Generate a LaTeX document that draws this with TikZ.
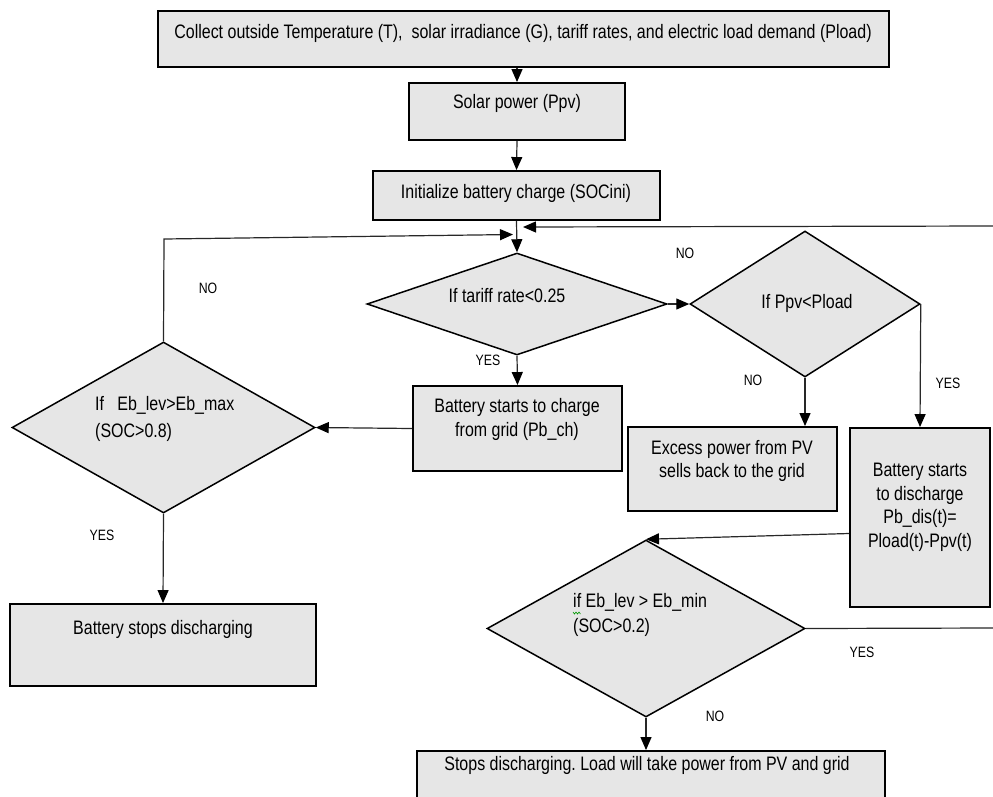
\documentclass[tikz,border=0pt]{standalone}
\usepackage{fontspec}
\setmainfont{Liberation Sans}[FakeStretch=0.82]
\usetikzlibrary{arrows.meta,shapes.geometric,calc}
\definecolor{boxfill}{RGB}{230,230,230}
\definecolor{linegray}{RGB}{40,40,40}
\frenchspacing
\begin{document}
\begin{tikzpicture}[x=1pt,y=-1pt,
  box/.style={draw=black, line width=1.9pt, fill=boxfill, inner sep=0pt},
  dec/.style={diamond, draw=black, line width=1.5pt, fill=boxfill, inner sep=0pt},
  txt/.style={font=\fontsize{19.5}{23.5}\selectfont, align=center, text=black, inner sep=0pt},
  lbl/.style={font=\fontsize{15}{18}\selectfont, text=black, inner sep=0pt},
  flow/.style={draw=linegray, line width=1.2pt},
  arr/.style={flow, -{Triangle[length=13pt,width=11pt,color=black]}}]

\useasboundingbox (0,0) rectangle (993,796);
\fill[white] (0,0) rectangle (993,796);
\clip (0,0) rectangle (993,796);

% process boxes
\node[box, minimum width=731pt, minimum height=56pt] (collect) at (523.5,39) {};
\node[txt] (collect-t) at (523,33) {Collect outside Temperature (T),\ \ solar irradiance (G), tariff rates, and electric load demand (Pload)};

\node[box, minimum width=216pt, minimum height=57pt] (solar) at (517,111.5) {};
\node[txt] (solar-t) at (517,103) {Solar power (Ppv)};

\node[box, minimum width=287pt, minimum height=49pt] (init) at (516.5,195.5) {};
\node[txt] (init-t) at (516,193) {Initialize battery charge (SOCini)};

\node[box, minimum width=209pt, minimum height=85pt] (charge) at (517.5,428.5) {};
\node[txt] (charge-t) at (517,419.5) {Battery starts to charge\\from grid (Pb\_ch)};

\node[box, minimum width=209pt, minimum height=84pt] (excess) at (732.5,469) {};
\node[txt] (excess-t) at (732,461) {Excess power from PV\\sells back to the grid};

\node[box, minimum width=140pt, minimum height=179pt] (discharge) at (920,517.5) {};
\node[txt] (discharge-t) at (920,507.5) {Battery starts\\to discharge\\Pb\_dis(t)=\\Pload(t)-Ppv(t)};

\node[box, minimum width=306pt, minimum height=82pt] (stopbatt) at (163,645) {};
\node[txt] (stopbatt-t) at (163,629) {Battery stops discharging};

\node[box, minimum width=468pt, minimum height=78pt] (stopload) at (651,790) {};
\node[txt] (stopload-t) at (647,765) {Stops discharging. Load will take power from PV and grid};

% decisions
\node[dec, minimum width=300pt, minimum height=102pt] (tariff) at (517,304) {};
\node[txt] (tariff-t) at (507,296) {If tariff rate<0.25};

\node[dec, minimum width=230pt, minimum height=146pt] (ppvq) at (805,304) {};
\node[txt] (ppvq-t) at (807,303) {If Ppv<Pload};

\node[dec, minimum width=303pt, minimum height=171pt] (ebmax) at (163.5,427.5) {};
\node[txt, align=left, anchor=west, font=\fontsize{19.5}{27}\selectfont] (ebmax-t) at (95,418.5) {If\ \ \ Eb\_lev>Eb\_max\\(SOC>0.8)};

\node[dec, minimum width=318pt, minimum height=177pt] (ebmin) at (646,628.5) {};
\node[txt, align=left, anchor=west, font=\fontsize{19.5}{25}\selectfont] (ebmin-t) at (573,614.5) {if Eb\_lev > Eb\_min\\(SOC>0.2)};
% spell-check squiggle under "if"
\draw[green!60!black, line width=0.6pt] (573,612) -- (574.5,614) -- (576,612) -- (577.5,614) -- (579,612) -- (580.5,614);

% branch labels
\node[lbl] (no1) at (685,253) {NO};
\node[lbl] (yes1) at (488,360) {YES};
\node[lbl] (no2) at (208,288) {NO};
\node[lbl] (yes2) at (102,535) {YES};
\node[lbl] (no3) at (753,380) {NO};
\node[lbl] (yes3) at (948,383) {YES};
\node[lbl] (yes4) at (862,652) {YES};
\node[lbl] (no4) at (715,716) {NO};

% loop-back points
\coordinate (mergeL) at (513,234.5);
\coordinate (mergeR) at (523,227);
\coordinate (entryR) at (993,226);
\coordinate (exitR) at (993,628);
\coordinate (loopcorner) at (164,239);

% connectors
\draw[arr] (solar.north |- collect.south) -- (solar.north);
\draw[arr] (solar.south) -- (init.north);
\draw[arr] (init.south) -- (tariff.north);
\draw[arr] (entryR) -- (mergeR);
\draw[arr] (ebmax.north) -- (loopcorner) -- (mergeL);
\draw[arr] (tariff.east) -- (ppvq.west);
\draw[arr] (tariff.south) -- (charge.north);
\draw[arr] (charge.west) -- (ebmax.east);
\draw[arr] (ebmax.south) -- (stopbatt.north);
\draw[arr] (ppvq.south) -- (ppvq.south |- excess.north);
\draw[arr] (ppvq.east) -- (discharge.north);
\draw[arr] ($(discharge.west)+(0,16)$) -- (ebmin.north);
\draw[flow] (ebmin.east) -- (exitR);
\draw[arr] (ebmin.south) -- (ebmin.south |- stopload.north);
\end{tikzpicture}
\end{document}
